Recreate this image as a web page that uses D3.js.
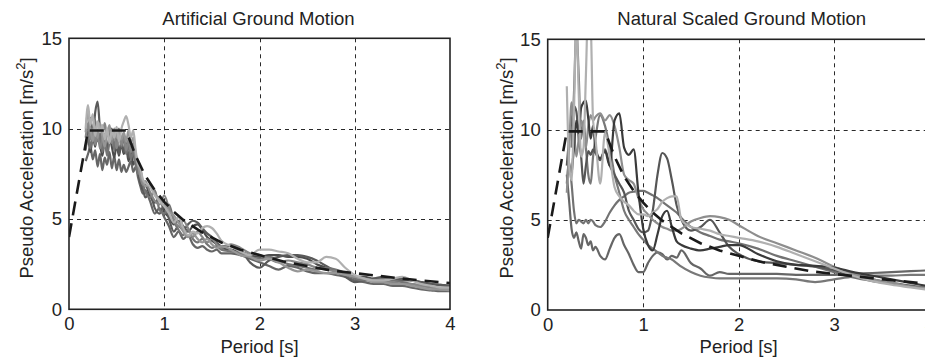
<!DOCTYPE html>
<html>
<head>
<meta charset="utf-8">
<script src="https://cdn.jsdelivr.net/npm/d3@7"></script>
<style>
  html, body { margin: 0; padding: 0; background: #fff; }
  svg { display: block; }
  text { font-family: "Liberation Sans", Arial, Helvetica, sans-serif; fill: #222; }
</style>
</head>
<body>
<svg id="chart" width="925" height="359"></svg>
<script>
// ---- shared tick labels ----
const xTicks = [0, 1, 2, 3, 4];
const yTicks = [0, 5, 10, 15];

// ---- target (design) spectrum, drawn dashed on both panels ----
const targetPeriods = [0, 0.2, 0.6, 0.7, 0.8, 0.9, 1.0, 1.1, 1.2, 1.4, 1.6, 1.8, 2.0, 2.25, 2.5, 2.75, 3.0, 3.5, 4.0];
const targetValues  = [4.0, 9.9, 9.9, 8.5, 7.4, 6.6, 5.95, 5.4, 4.95, 4.25, 3.7, 3.3, 3.0, 2.65, 2.4, 2.15, 2.0, 1.7, 1.45];

// ---- artificial ground motion spectra (periods in s, values in m/s^2) ----
const artPeriods = [0.175, 0.2, 0.225, 0.25, 0.275, 0.3, 0.325, 0.35, 0.375, 0.4, 0.425, 0.45, 0.475, 0.5, 0.525, 0.55, 0.575, 0.6, 0.625, 0.65, 0.675, 0.7, 0.725, 0.75, 0.775, 0.8,
  0.85, 0.9, 0.95, 1.0, 1.05, 1.1, 1.15, 1.2, 1.25, 1.3, 1.35, 1.4, 1.45, 1.5, 1.55, 1.6,
  1.7, 1.8, 1.9, 2.0, 2.1, 2.2, 2.3, 2.4, 2.5, 2.6, 2.7, 2.8, 2.9, 3.0, 3.1, 3.2, 3.3, 3.4, 3.5, 3.6, 3.7, 3.8, 3.9, 4.0];

const art1 = [10.0, 11.3, 10.2, 10.8, 9.6, 10.4, 9.8, 10.2, 9.4, 10.0, 9.2, 9.9, 9.5, 10.1, 9.3, 10.0, 10.4, 10.7, 10.2, 9.5, 9.9, 8.8, 8.0, 7.8, 7.2, 7.0,
  6.8, 6.3, 6.0, 5.7, 5.3, 4.8, 5.1, 4.5, 4.1, 4.3, 4.2, 4.5, 4.6, 4.5, 4.2, 3.8,
  3.5, 3.2, 3.0, 3.3, 3.3, 3.2, 3.1, 2.8, 2.6, 2.6, 2.9, 2.8, 2.3, 1.9, 1.7, 1.6, 1.6, 1.7, 1.8, 1.6, 1.4, 1.3, 1.2, 1.2];
const art2 = [9.0, 9.8, 10.6, 9.5, 10.9, 11.5, 10.0, 9.0, 9.7, 8.8, 9.6, 10.0, 9.0, 9.4, 8.6, 9.3, 8.7, 9.2, 8.4, 9.0, 8.6, 8.1, 7.6, 7.0, 6.7, 6.2,
  6.4, 5.6, 5.3, 5.8, 5.0, 4.3, 4.6, 4.4, 4.7, 4.9, 4.8, 4.5, 4.2, 4.0, 3.7, 3.5,
  3.5, 3.3, 2.6, 2.3, 2.7, 2.9, 3.0, 3.0, 2.9, 2.7, 2.4, 2.1, 1.8, 1.5, 1.6, 1.7, 1.8, 1.7, 1.6, 1.6, 1.5, 1.4, 1.35, 1.3];
const art3 = [8.2, 8.6, 9.0, 8.3, 8.8, 7.9, 8.6, 7.7, 8.4, 8.0, 8.7, 7.8, 8.5, 7.7, 8.3, 7.6, 8.0, 7.6, 7.9, 8.2, 7.6, 7.9, 7.3, 6.8, 6.4, 6.6,
  6.0, 5.3, 5.6, 5.1, 4.6, 4.0, 4.3, 3.9, 4.1, 3.6, 3.4, 3.5, 3.3, 3.2, 3.3, 3.1,
  3.1, 3.0, 2.8, 2.6, 2.4, 2.2, 2.4, 2.3, 2.1, 2.0, 2.0, 1.9, 1.8, 1.6, 1.5, 1.4, 1.4, 1.3, 1.3, 1.2, 1.1, 1.05, 1.0, 1.0];
const art4 = [9.5, 10.3, 9.4, 10.0, 9.1, 9.8, 8.9, 9.5, 10.3, 9.6, 10.0, 9.2, 9.8, 8.9, 9.6, 9.1, 9.7, 8.8, 9.4, 8.7, 9.2, 8.4, 7.9, 7.3, 6.9, 7.1,
  6.5, 6.0, 5.8, 6.3, 5.6, 5.0, 4.6, 4.9, 4.5, 4.0, 4.3, 4.0, 3.7, 3.9, 3.6, 3.4,
  3.6, 3.4, 3.1, 3.0, 2.8, 2.6, 2.7, 2.6, 2.5, 2.3, 2.2, 2.1, 2.0, 1.8, 1.7, 1.6, 1.5, 1.5, 1.4, 1.4, 1.3, 1.2, 1.1, 1.1];
const art5 = [8.8, 9.6, 8.9, 9.9, 10.5, 9.3, 9.9, 8.7, 9.4, 8.5, 9.3, 9.8, 8.8, 9.6, 10.0, 9.0, 9.5, 8.6, 9.1, 8.3, 8.8, 8.0, 7.5, 7.7, 7.0, 6.5,
  6.2, 6.6, 5.5, 5.3, 5.8, 4.9, 4.4, 4.1, 4.4, 3.9, 3.7, 3.9, 3.6, 3.4, 3.5, 3.3,
  3.2, 3.1, 2.9, 2.8, 2.9, 2.7, 2.5, 2.4, 2.3, 2.2, 2.3, 2.2, 2.0, 1.7, 1.6, 1.6, 1.7, 1.6, 1.5, 1.4, 1.3, 1.25, 1.2, 1.2];
const art6 = [9.8, 10.9, 10.0, 9.3, 10.1, 9.5, 10.3, 9.6, 9.0, 9.7, 10.2, 9.4, 10.0, 9.5, 9.9, 9.4, 9.8, 9.3, 9.9, 9.2, 9.5, 8.6, 8.1, 7.4, 7.1, 6.8,
  6.9, 6.4, 6.1, 5.9, 5.4, 5.2, 4.8, 4.3, 4.0, 4.2, 3.9, 3.7, 3.9, 3.6, 3.4, 3.5,
  3.3, 3.0, 2.9, 2.7, 2.8, 2.6, 2.3, 2.1, 2.2, 2.1, 2.0, 2.0, 1.9, 1.8, 1.7, 1.5, 1.5, 1.4, 1.4, 1.3, 1.2, 1.1, 1.1, 1.05];
const art7 = [9.0, 9.5, 8.7, 9.6, 9.0, 9.9, 9.2, 8.5, 9.3, 8.7, 9.5, 9.0, 8.4, 9.1, 8.5, 9.2, 8.6, 9.0, 8.2, 8.7, 8.0, 8.3, 7.7, 7.1, 6.6, 6.9,
  6.3, 5.9, 6.2, 5.4, 5.1, 4.7, 4.9, 4.6, 4.3, 4.6, 4.7, 4.4, 4.0, 3.8, 3.6, 3.4,
  3.3, 3.2, 3.0, 2.9, 3.0, 3.0, 2.9, 2.9, 2.8, 2.5, 2.3, 2.1, 1.9, 1.8, 1.8, 1.7, 1.7, 1.7, 1.7, 1.6, 1.5, 1.4, 1.35, 1.3];

const artSeries = [art3, art7, art2, art5, art4, art6, art1];
const artShades = ["#666666", "#4c4c4c", "#5a5a5a", "#747474", "#868686", "#969696", "#b0b0b0"];

// ---- natural scaled ground motion spectra ----
const natPeriods = [0.2, 0.225, 0.25, 0.275, 0.3, 0.325, 0.35, 0.375, 0.4, 0.425, 0.45, 0.475, 0.5,
  0.55, 0.6, 0.65, 0.7, 0.75, 0.8, 0.85, 0.9, 0.95, 1.0,
  1.05, 1.1, 1.15, 1.2, 1.25, 1.3, 1.35, 1.4,
  1.5, 1.6, 1.7, 1.8, 1.9, 2.0,
  2.2, 2.4, 2.6, 2.8, 3.0, 3.2, 3.4, 3.6, 3.8, 4.0];

const nat1 = [12.4, 8.0, 7.2, 11.0, 16.0, 12.0, 8.5, 9.0, 13.0, 17.0, 16.0, 10.5, 9.5,
  7.0, 9.8, 8.5, 6.8, 6.3, 6.0, 5.8, 5.5, 5.3, 5.3,
  5.2, 5.4, 5.6, 6.0, 6.2, 6.3, 6.3, 5.0,
  4.6, 4.5, 4.4, 4.2, 4.1, 4.0,
  3.8, 3.5, 3.1, 2.7, 2.3, 1.9, 1.6, 1.4, 1.25, 1.1];
const nat2 = [6.5, 9.0, 11.5, 10.0, 8.5, 9.5, 10.5, 10.0, 9.0, 10.2, 10.8, 10.5, 10.7,
  10.9, 10.5, 10.8, 10.2, 9.0, 7.5, 7.2, 7.0, 6.2, 5.6,
  5.3, 5.0, 4.8, 4.6, 4.5, 4.4, 4.4, 4.5,
  4.9, 5.1, 5.2, 5.15, 5.0, 4.7,
  4.1, 3.7, 3.3, 2.9, 2.4, 2.0, 1.7, 1.5, 1.3, 1.2];
const nat3 = [null, null, 7.5, 9.0, 10.5, 9.8, 11.2, 11.5, 11.6, 10.6, 9.5, 10.2, 9.0,
  8.4, 8.8, 8.0, 10.5, 10.9, 9.0, 8.6, 8.9, 6.5, 4.5,
  3.6, 3.3, 4.2, 5.2, 5.5, 4.6, 3.8, 3.6,
  3.4, 3.3, 3.4, 3.5, 3.6, 3.6,
  3.1, 2.7, 2.5, 2.45, 2.35, 2.1, 1.9, 1.7, 1.5, 1.3];
const nat4 = [8.0, 9.5, 10.5, 11.3, 11.0, 9.5, 8.5, 7.0, 8.0, 8.8, 8.6, 8.9, 8.7,
  8.3, 8.9, 8.0, 7.5, 7.0, 6.5, 5.5, 5.0, 4.5, 4.3,
  4.4, 5.5, 7.5, 8.7, 8.4, 7.2, 5.8, 5.0,
  4.4, 4.6, 5.0, 4.3, 3.5, 3.1,
  2.7, 2.6, 2.5, 2.4, 2.2, 1.9, 1.7, 1.5, 1.35, 1.2];
const nat5 = [7.0, 8.2, 7.0, 5.5, 4.8, 5.0, 4.9, 4.8, 5.0, 4.8, 5.0, 4.9, 4.7,
  4.6, 4.9, 5.4, 5.8, 6.1, 6.3, 6.5, 6.55, 6.6, 6.6,
  6.5, 6.35, 6.2, 6.0, 5.8, 5.6, 5.4, 5.1,
  4.6, 4.3, 4.1, 3.9, 3.8, 3.7,
  3.4, 3.0, 2.7, 2.4, 2.1, 1.8, 1.6, 1.45, 1.3, 1.2];
const nat6 = [7.5, 6.0, 4.5, 4.0, 4.3, 3.8, 3.4, 4.2, 4.0, 3.6, 3.8, 3.3, 3.5,
  3.0, 2.8, 3.4, 4.0, 4.2, 3.6, 3.1, 2.5, 2.1, 2.1,
  2.6, 3.0, 3.2, 3.1, 2.8, 3.0, 2.9, 3.3,
  2.6, 2.3, 1.9, 2.1, 2.0, 2.0,
  2.0, 2.0, 1.95, 1.95, 1.95, 2.0, 2.05, 2.1, 2.15, 2.2];
const nat7 = [null, null, 9.0, 12.0, 15.5, 13.0, 9.5, 10.5, 9.0, 7.5, 7.0, 8.5, 9.5,
  10.8, 10.2, 9.0, 7.5, 6.5, 5.5, 5.0, 4.6, 4.2, 3.9,
  3.6, 3.4, 3.2, 3.0, 2.9, 2.8, 2.6, 2.4,
  2.1, 1.9, 1.8, 1.75, 1.75, 1.75,
  1.75, 1.75, 1.7, 1.55, 1.7, 1.85, 1.9, 1.9, 1.95, 1.95];

const natSeries = [nat6, nat7, nat5, nat4, nat2, nat3, nat1];
const natShades = ["#666666", "#787878", "#727272", "#565656", "#8e8e8e", "#3a3a3a", "#b0b0b0"];

// ---- drawing ----
const svg = d3.select("#chart");
const FONT = 18.5;

function panel(opts) {
  const x = d3.scaleLinear().domain([0, 4]).range([opts.left, opts.right]);
  const y = d3.scaleLinear().domain([0, 15]).range([opts.bottom, opts.top]);
  const g = svg.append("g");

  const clipId = "clip-" + opts.id;
  svg.append("clipPath").attr("id", clipId)
    .append("rect")
    .attr("x", opts.left).attr("y", opts.top)
    .attr("width", opts.right - opts.left).attr("height", opts.bottom - opts.top);

  // dashed grid
  const grid = g.append("g").attr("stroke", "#2a2a2a").attr("stroke-width", 1)
    .attr("stroke-dasharray", "4,4").attr("fill", "none");
  grid.selectAll("line.vx").data(xTicks.filter(t => t > 0 && t < 4)).join("line")
    .attr("x1", d => Math.round(x(d)) + 0.5).attr("x2", d => Math.round(x(d)) + 0.5)
    .attr("y1", opts.top).attr("y2", opts.bottom);
  grid.selectAll("line.hy").data(yTicks.filter(t => t > 0 && t < 15)).join("line")
    .attr("x1", opts.left).attr("x2", opts.right)
    .attr("y1", d => Math.round(y(d)) + 0.5).attr("y2", d => Math.round(y(d)) + 0.5);

  // response spectra
  const line = d3.line()
    .defined(d => d[1] != null)
    .x(d => x(d[0])).y(d => y(d[1]))
    .curve(d3.curveMonotoneX);
  const curves = g.append("g").attr("clip-path", `url(#${clipId})`);
  opts.series.forEach((vals, i) => {
    curves.append("path")
      .datum(opts.periods.map((p, k) => [p, vals[k]]))
      .attr("fill", "none")
      .attr("stroke", opts.shades[i])
      .attr("stroke-width", 2.2)
      .attr("stroke-linejoin", "round")
      .attr("d", line);
  });

  // target spectrum
  curves.append("path")
    .datum(targetPeriods.map((p, k) => [p, targetValues[k]]))
    .attr("fill", "none")
    .attr("stroke", "#1a1a1a")
    .attr("stroke-width", 2.6)
    .attr("stroke-dasharray", "14,8")
    .attr("d", d3.line().x(d => x(d[0])).y(d => y(d[1])));

  // axes
  const xAxis = d3.axisBottom(x).tickValues(xTicks).tickFormat(d3.format("d"))
    .tickSize(0).tickPadding(8);
  const gx = g.append("g").attr("transform", `translate(0,${opts.bottom})`).call(xAxis);
  const yAxis = d3.axisLeft(y).tickValues(yTicks).tickFormat(d3.format("d"))
    .tickSize(0).tickPadding(7);
  const gy = g.append("g").attr("transform", `translate(${opts.left},0)`).call(yAxis);
  [gx, gy].forEach(a => {
    a.select(".domain").remove();
    a.selectAll("text").attr("font-size", FONT).attr("fill", "#222")
      .attr("font-family", "Liberation Sans, Arial, sans-serif");
  });

  // frame
  g.append("rect")
    .attr("x", opts.left).attr("y", opts.top)
    .attr("width", opts.right - opts.left).attr("height", opts.bottom - opts.top)
    .attr("fill", "none").attr("stroke", "#222").attr("stroke-width", 1.6);

  // titles and labels
  g.append("text")
    .attr("x", (opts.left + opts.right) / 2 + opts.titleShift).attr("y", 25)
    .attr("text-anchor", "middle").attr("font-size", FONT)
    .text(opts.title);
  g.append("text")
    .attr("x", (x(0) + x(4)) / 2 + opts.xlabShift).attr("y", 353)
    .attr("text-anchor", "middle").attr("font-size", FONT)
    .text("Period [s]");
  const yl = g.append("text")
    .attr("transform", `translate(${opts.ylabX},${opts.ylabY}) rotate(-90)`)
    .attr("text-anchor", "middle").attr("font-size", FONT);
  yl.append("tspan").text("Pseudo Acceleration [m/s");
  yl.append("tspan").attr("font-size", 13).attr("dy", -8).text("2");
  yl.append("tspan").attr("dy", 8).text("]");
}

panel({
  id: "art", left: 69, right: 450, top: 38.3, bottom: 309.3,
  periods: artPeriods, series: artSeries, shades: artShades,
  title: "Artificial Ground Motion", titleShift: -1, xlabShift: 0,
  ylabX: 33, ylabY: 168
});

panel({
  id: "nat", left: 547.7, right: 929.7, top: 39.3, bottom: 310,
  periods: natPeriods, series: natSeries, shades: natShades,
  title: "Natural Scaled Ground Motion", titleShift: 3, xlabShift: 0,
  ylabX: 513, ylabY: 168
});
</script>
</body>
</html>
